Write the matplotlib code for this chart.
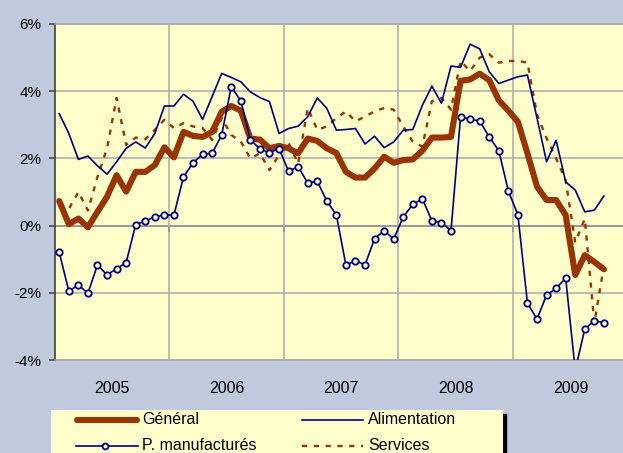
import matplotlib
matplotlib.use("Agg")
import numpy as np
import matplotlib.pyplot as plt
from matplotlib.lines import Line2D
from matplotlib.patches import Rectangle

plt.rcParams["font.family"] = "Liberation Sans"

# glissement annuel des prix, janv. 2005 -> oct. 2009 (en %)
years = ["2005", "2006", "2007", "2008", "2009"]
general = [0.73, 0.04, 0.21, -0.05, 0.41, 0.86, 1.50, 1.01, 1.60, 1.60,
           1.80, 2.33, 2.03, 2.79, 2.67, 2.64, 2.79, 3.39, 3.56, 3.42,
           2.59, 2.56, 2.30, 2.37, 2.30, 2.15, 2.59, 2.52, 2.30, 2.16,
           1.60, 1.43, 1.43, 1.70, 2.05, 1.87, 1.95, 1.97, 2.23, 2.62,
           2.62, 2.64, 4.31, 4.35, 4.52, 4.33, 3.73, 3.42, 3.09, 2.15,
           1.16, 0.76, 0.76, 0.31, -1.47, -0.88, -1.08, -1.30]
alimentation = [3.33, 2.74, 1.97, 2.07, 1.78, 1.53, 1.90, 2.30, 2.49, 2.31,
                2.74, 3.56, 3.56, 3.91, 3.70, 3.16, 3.84, 4.53, 4.41, 4.28,
                3.98, 3.81, 3.69, 2.74, 2.89, 2.96, 3.24, 3.80, 3.49, 2.84,
                2.86, 2.89, 2.43, 2.66, 2.32, 2.49, 2.84, 2.86, 3.58, 4.15,
                3.64, 4.75, 4.71, 5.40, 5.26, 4.58, 4.23, 4.33, 4.43, 4.48,
                3.20, 1.90, 2.54, 1.30, 1.06, 0.41, 0.46, 0.88]
manufactures = [-0.80, -1.95, -1.77, -2.01, -1.17, -1.47, -1.28, -1.10, 0.03, 0.14,
                0.26, 0.31, 0.31, 1.45, 1.87, 2.12, 2.15, 2.70, 4.13, 3.71,
                2.56, 2.28, 2.17, 2.29, 1.62, 1.75, 1.27, 1.32, 0.73, 0.32,
                -1.18, -1.04, -1.17, -0.39, -0.15, -0.40, 0.26, 0.63, 0.80, 0.14,
                0.09, -0.15, 3.24, 3.17, 3.11, 2.64, 2.23, 1.03, 0.32, -2.31,
                -2.78, -2.07, -1.87, -1.56, -4.30, -3.08, -2.83, -2.89]
services = [0.65, 0.50, 1.00, 0.45, 1.45, 2.30, 3.80, 2.40, 2.62, 2.57,
            2.85, 3.15, 2.90, 3.05, 2.95, 2.90, 2.55, 3.20, 2.70, 2.50,
            2.00, 2.15, 1.65, 2.10, 2.45, 1.85, 3.50, 2.85, 2.95, 3.20,
            3.40, 3.10, 3.25, 3.40, 3.50, 3.45, 2.95, 2.50, 2.35, 3.70,
            3.80, 3.45, 4.90, 4.60, 5.00, 5.10, 4.85, 4.90, 4.90, 4.85,
            3.30, 2.60, 2.00, 1.35, -0.50, 0.20, -2.90, -1.20]

BG = "#C0CADC"
PLOT_BG = "#FFFFCC"
BROWN = "#993300"
NAVY = "#000080"
GRID = "#AAAAAA"
DARK = "#404040"

W, H = 623, 453
def px(x):
    return x / W
def py(y):
    return 1 - y / H

months = np.arange(len(general)) + 0.5
bounds = [12, 24, 36, 48]

fig = plt.figure(figsize=(6.23, 4.53), dpi=100, facecolor=BG)
ax = fig.add_axes([px(54.5), py(360), 1 - px(54.5), (360 - 24) / H])
ax.set_facecolor(PLOT_BG)

ax.plot(months, services, color=BROWN, lw=1.7, ls=(0, (2.2, 2.8)), zorder=3)
ax.plot(months, general, color=BROWN, lw=4.4, solid_joinstyle="round",
        solid_capstyle="round", zorder=4)
ax.plot(months, alimentation, color=NAVY, lw=1.2, zorder=5)
ax.plot(months, manufactures, color=NAVY, lw=1.2, marker="o", ms=4.6,
        mfc=PLOT_BG, mec=NAVY, mew=1.3, zorder=6)

ax.set_xlim(0, 59.5)
ax.set_ylim(-4, 6)
ax.set_yticks(range(-4, 7, 2))
ax.set_yticklabels([f"{v}%" for v in range(-4, 7, 2)], fontsize=11)
ax.set_xticks([6, 18, 30, 42, 54])
ax.set_xticklabels(years, fontsize=11.5)
ax.set_xticks(bounds, minor=True)
ax.tick_params(axis="x", which="both", length=0, pad=15)
ax.tick_params(axis="y", length=4.3, width=1.1, color=DARK, pad=5)

ax.grid(True, which="major", axis="y", color=GRID, lw=1.1, zorder=0)
ax.grid(True, which="minor", axis="x", color=GRID, lw=1.1, zorder=0)
ax.set_axisbelow(True)

for s in ["top", "bottom"]:
    ax.spines[s].set_color(GRID)
    ax.spines[s].set_linewidth(1.1)
ax.spines["right"].set_visible(False)
ax.spines["left"].set_color(DARK)
ax.spines["left"].set_linewidth(1.2)

# axe des abscisses croise a 0
sec = ax.secondary_xaxis(0.4)
sec.set_xticks(bounds)
sec.tick_params(length=4, width=1.2, color=DARK, labelbottom=False)
sec.spines["bottom"].set_color("#555555")
sec.spines["bottom"].set_linewidth(1.3)

# legende
fig.add_artist(Rectangle((px(503), 0), px(3), py(414), transform=fig.transFigure,
                         color="black", zorder=1))
fig.add_artist(Rectangle((px(51), 0), px(503 - 51), py(410), transform=fig.transFigure,
                         facecolor=PLOT_BG, edgecolor="none", zorder=2))
r1, r2 = py(420), py(446)
fig.add_artist(Line2D([px(77), px(137)], [r1, r1], color=BROWN, lw=4.4,
                      solid_capstyle="round", zorder=3))
fig.add_artist(Line2D([px(302), px(363)], [r1, r1], color=NAVY, lw=1.2, zorder=3))
fig.add_artist(Line2D([px(76), px(138)], [r2, r2], color=NAVY, lw=1.2, zorder=3))
fig.add_artist(Line2D([px(105)], [r2], color=NAVY, marker="o", ms=4.2,
                      mfc=PLOT_BG, mew=1.3, zorder=4))
fig.add_artist(Line2D([px(302), px(363)], [r2, r2], color=BROWN, lw=1.7,
                      ls=(0, (2.2, 2.8)), zorder=3))
fs = 11.5
fig.text(px(142), r1, "Général", fontsize=fs, va="center", zorder=5)
fig.text(px(368), r1, "Alimentation", fontsize=fs, va="center", zorder=5)
fig.text(px(142), r2, "P. manufacturés", fontsize=fs, va="center", zorder=5)
fig.text(px(368), r2, "Services", fontsize=fs, va="center", zorder=5)

fig.savefig("out.png", dpi=100, facecolor=BG)
